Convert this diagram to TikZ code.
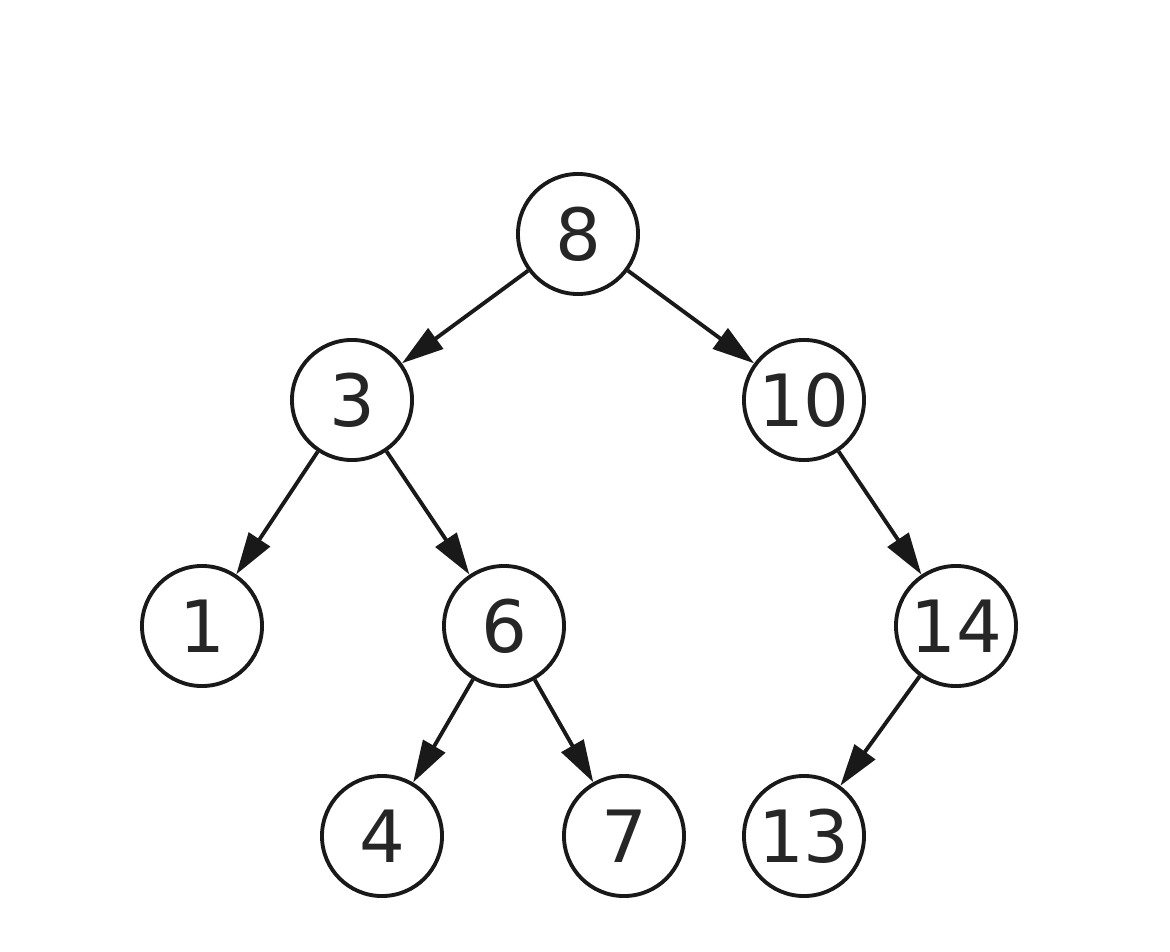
\documentclass[tikz,border=0pt]{standalone}
\usepackage{fontspec}
\setmainfont{DejaVu Sans}
\usetikzlibrary{arrows.meta}
\begin{document}
\begin{tikzpicture}[x=0.01cm, y=-0.01cm,
        key/.style={circle, draw=black!90, text=black!85, line width=1.1pt, minimum size=1.2cm, inner sep=0pt, font=\fontsize{20.5}{24}\selectfont},
        link/.style={draw=black!90, line width=1.1pt, -{Triangle[length=4.2mm, width=2.5mm]}}]
        \useasboundingbox (0, 0) rectangle (1170, 952);

        \node (n8) at (578, 234)[key]{8};
        \node (n3) at (352, 400)[key]{3};
        \node (n10) at (804, 400)[key]{10};
        \node (n1) at (202, 626)[key]{1};
        \node (n6) at (504, 626)[key]{6};
        \node (n14) at (956, 626)[key]{14};
        \node (n4) at (382, 836)[key]{4};
        \node (n7) at (624, 836)[key]{7};
        \node (n13) at (804, 836)[key]{13};

        \draw[link] (n8) -- (n3);
        \draw[link] (n8) -- (n10);
        \draw[link] (n3) -- (n1);
        \draw[link] (n3) -- (n6);
        \draw[link] (n10) -- (n14);
        \draw[link] (n6) -- (n4);
        \draw[link] (n6) -- (n7);
        \draw[link] (n14) -- (n13);
    \end{tikzpicture}
\end{document}
